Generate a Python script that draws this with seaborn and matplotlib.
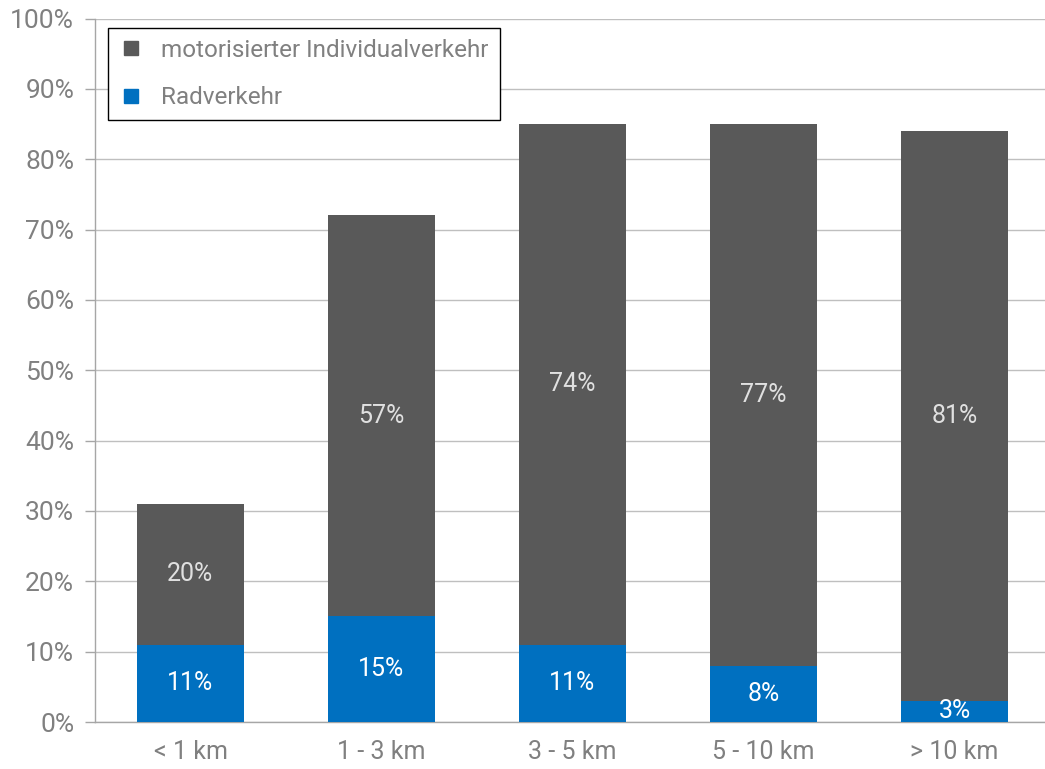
import matplotlib
matplotlib.use("Agg")
import matplotlib.pyplot as plt
import seaborn as sns
import pandas as pd
import numpy as np
from matplotlib.lines import Line2D

categories = ["< 1 km", "1 - 3 km", "3 - 5 km", "5 - 10 km", "> 10 km"]
rad = [11, 15, 11, 8, 3]
miv = [20, 57, 74, 77, 81]
series_names = ["motorisierter Individualverkehr", "Radverkehr"]
y_ticks = [0, 10, 20, 30, 40, 50, 60, 70, 80, 90, 100]

GRAY = "#595959"
BLUE = "#0070C0"
TXT = "#808080"
FS = 18

sns.set_style("white")
plt.rcParams["font.family"] = ["Roboto", "DejaVu Sans"]

df = pd.DataFrame({"cat": categories, "rad": rad, "miv": miv})
df["total"] = df["rad"] + df["miv"]

fig = plt.figure(figsize=(10.45, 7.69), dpi=100)
ax = fig.add_axes([95/1045, 1-722/769, 955/1045, (722-18.5)/769])

sns.barplot(data=df, x="cat", y="total", color=GRAY, width=0.555, saturation=1,
            linewidth=0, ax=ax, zorder=3)
sns.barplot(data=df, x="cat", y="rad", color=BLUE, width=0.555, saturation=1,
            linewidth=0, ax=ax, zorder=3)

for i, (r, m) in enumerate(zip(rad, miv)):
    ax.text(i, r/2, f"{r}%", ha="center", va="center", color="white", fontsize=FS, zorder=5)
    ax.text(i, r + m/2, f"{m}%", ha="center", va="center", color="#E0E0E0", fontsize=FS, zorder=5)

ax.set_xlim(-0.5, 4.5)
ax.set_ylim(0, 100)
ax.set_yticks(y_ticks)
ax.set_yticklabels([f"{t}%" for t in y_ticks])
ax.yaxis.grid(True, color="#BFBFBF", linewidth=1, zorder=0)
ax.set_axisbelow(True)
ax.set_xlabel("")
ax.set_ylabel("")

ax.set_xticks(range(len(categories)))
ax.set_xticklabels(categories)
ax.set_xticks(np.arange(-0.5, 4.6, 1), minor=True)
ax.tick_params(axis="x", which="major", length=0, pad=13, labelsize=FS, labelcolor=TXT)
ax.tick_params(axis="x", which="minor", length=8, color="#A6A6A6", width=1, direction="out")
ax.tick_params(axis="y", length=7, color="#A6A6A6", width=1, pad=8, labelsize=19, labelcolor=TXT, left=True)

for s in ["top", "right"]:
    ax.spines[s].set_visible(False)
for s in ["left", "bottom"]:
    ax.spines[s].set_color("#A6A6A6")
    ax.spines[s].set_linewidth(1)

handles = [
    Line2D([], [], marker="s", linestyle="", markersize=10, color=GRAY),
    Line2D([], [], marker="s", linestyle="", markersize=10, color=BLUE),
]
leg = fig.legend(handles, series_names, loc="upper left",
                 bbox_to_anchor=(108/1045, 1-28/769), bbox_transform=fig.transFigure,
                 frameon=True, fancybox=False, edgecolor="black", framealpha=1,
                 fontsize=17.5, labelspacing=1.0, handletextpad=0.75, borderpad=0.45,
                 borderaxespad=0, handlelength=1.0)
leg.get_frame().set_linewidth(1)
for t in leg.get_texts():
    t.set_color(TXT)

fig.savefig("out.png", dpi=100)
